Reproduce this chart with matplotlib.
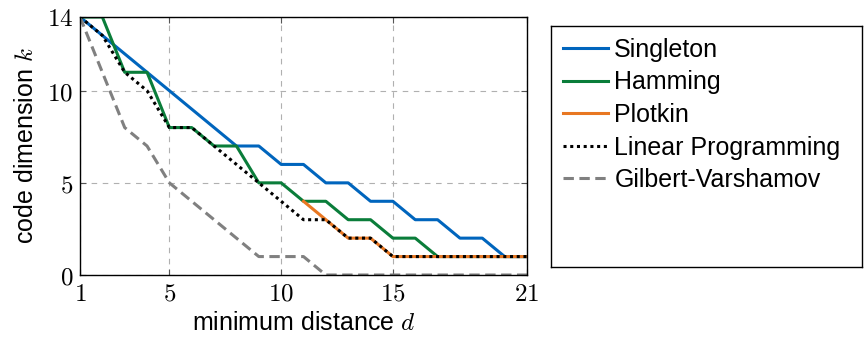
import matplotlib
matplotlib.use("Agg")
import matplotlib.pyplot as plt

# data
d = list(range(1, 22))
singleton = [14, 13, 12, 11, 10, 9, 8, 7, 7, 6, 6, 5, 5, 4, 4, 3, 3, 2, 2, 1, 1]
hamming = [14, 14, 11, 11, 8, 8, 7, 7, 5, 5, 4, 4, 3, 3, 2, 2, 1, 1, 1, 1, 1]
plotkin_d = list(range(11, 22))
plotkin = [4, 3, 2, 2, 1, 1, 1, 1, 1, 1, 1]
linprog = [14, 13, 11, 10, 8, 8, 7, 6, 5, 4, 3, 3, 2, 2, 1, 1, 1, 1, 1, 1, 1]
gilbert = [14, 11, 8, 7, 5, 4, 3, 2, 1, 1, 1, 0, 0, 0, 0, 0, 0, 0, 0, 0, 0]

xticks = [1, 5, 10, 15, 21]
yticks = [0, 5, 10, 14]

plt.rcParams['font.family'] = ['Liberation Sans', 'DejaVu Sans']
plt.rcParams['mathtext.fontset'] = 'cm'

fig = plt.figure(figsize=(8.64, 3.4), dpi=100)
ax = fig.add_axes([80/864, 1-275/340, (527-80)/864, (275-17)/340])

lw = 2.2
ax.plot(d, singleton, color='#0065BD', lw=lw, label='Singleton')
ax.plot(d, hamming, color='#0A7D3A', lw=lw, label='Hamming')
ax.plot(plotkin_d, plotkin, color='#E87722', lw=lw, label='Plotkin')
ax.plot(d, linprog, color='black', lw=lw, linestyle=(0, (1, 1.2)),
        label='Linear Programming')
ax.plot(d, gilbert, color='#808080', lw=lw, linestyle=(0, (3.4, 1.8)),
        label='Gilbert-Varshamov')

ax.set_xlim(1, 21)
ax.set_ylim(0, 14)
ax.set_xticks(xticks)
ax.set_yticks(yticks)
ax.set_xticklabels(['$%d$' % t for t in xticks], fontsize=18)
ax.set_yticklabels(['$%d$' % t for t in yticks], fontsize=18)
ax.tick_params(direction='in', top=True, right=True, length=4,
               width=0.8, color='#555555', pad=5)
ax.grid(True, color='#b0b0b0', linestyle=(0, (5, 5)), lw=0.8)
for s in ax.spines.values():
    s.set_linewidth(1.0)

ax.set_xlabel('minimum distance $d$', fontsize=18, labelpad=4)
ax.set_ylabel('code dimension $k$', fontsize=18, labelpad=6)

# legend box on the right
lax = fig.add_axes([551/864, 1-267/340, (862-551)/864, (267-26)/340])
lax.set_xticks([])
lax.set_yticks([])
for s in lax.spines.values():
    s.set_linewidth(1.0)
handles, labels = ax.get_legend_handles_labels()
lax.legend(handles, labels, loc='upper left', bbox_to_anchor=(0.0, 1.0),
           frameon=False, fontsize=18, handlelength=1.8, handletextpad=0.25,
           labelspacing=0.34, borderaxespad=0.08)

fig.savefig('out.png', dpi=100)
